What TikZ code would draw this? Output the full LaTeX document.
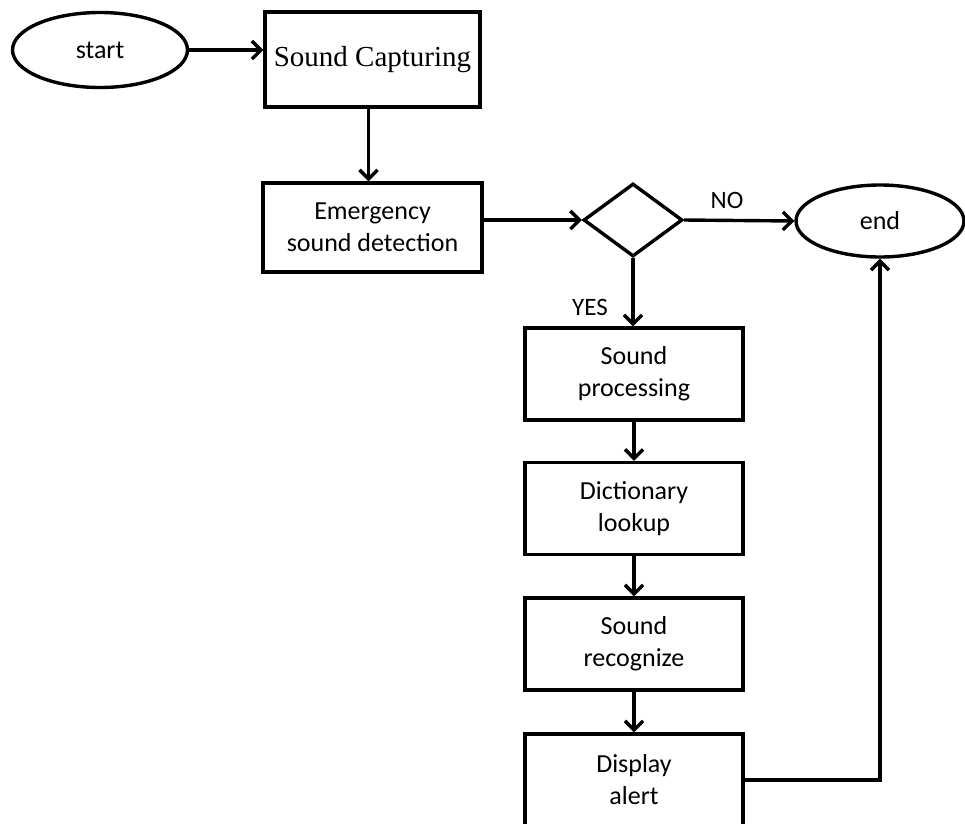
\documentclass[tikz,border=0pt]{standalone}
\usepackage{fontspec}
\setmainfont{Liberation Serif}
\newfontfamily\carlito{Carlito}
\usetikzlibrary{shapes.geometric, arrows.meta}

\begin{document}
\begin{tikzpicture}[x=1pt, y=-1pt, line width=3.4pt,
    >={Straight Barb[length=9pt, width=18pt]},
    box/.style={rectangle, draw, fill=white, inner sep=0pt, minimum width=218pt, minimum height=92pt, align=center, font=\carlito\fontsize{26}{32}\selectfont},
    oval/.style={ellipse, draw, fill=white, inner sep=0pt, font=\carlito\fontsize{26}{32}\selectfont},
    decision/.style={diamond, draw, fill=white, inner sep=0pt, aspect=1.36, minimum width=99pt, minimum height=73pt},
    tag/.style={inner sep=0pt, font=\carlito\fontsize{25}{30}\selectfont}]
    \useasboundingbox (0,0) rectangle (965,823);

    % Define positions of the nodes
    \node[oval, minimum width=175pt, minimum height=75pt] (start) at (100, 50) {start};
    \node[box, font=\fontsize{29}{34}\selectfont, minimum width=215pt, minimum height=95pt] (capture) at (372.5, 59.5) {Sound Capturing};
    \node[box, minimum width=219pt, minimum height=89pt] (detect) at (372.5, 227.5) {Emergency\\sound detection};
    \node[decision] (decide) at (633, 220) {};
    \node[oval, minimum width=168pt, minimum height=72pt] (stop) at (880, 221) {end};
    \node[box] (process) at (634, 374) {Sound\\processing};
    \node[box] (lookup) at (634, 508.5) {Dictionary\\lookup};
    \node[box] (recog) at (634, 644) {Sound\\recognize};
    \node[box] (alert) at (634, 780) {Display\\alert};

    % Labels on the branches
    \node[tag] (no) at (727, 200) {NO};
    \node[tag] (yes) at (590, 307) {YES};

    % Draw edges between the nodes
    \draw[->] (start.east) -- (start.east -| capture.west);
    \draw[->] ([xshift=-4pt]capture.south) -- ([xshift=-4pt]capture.south |- detect.north);
    \draw[->] (detect.east |- decide) -- (decide.west);
    \draw[->] (decide.east) -- (stop.west);
    \draw[->] (decide.south) -- (decide.south |- process.north);
    \draw[->] (process) -- (lookup);
    \draw[->] (lookup) -- (recog);
    \draw[->] (recog) -- (alert);
    \draw[->] (alert.east) -| (stop.south);
\end{tikzpicture}
\end{document}
